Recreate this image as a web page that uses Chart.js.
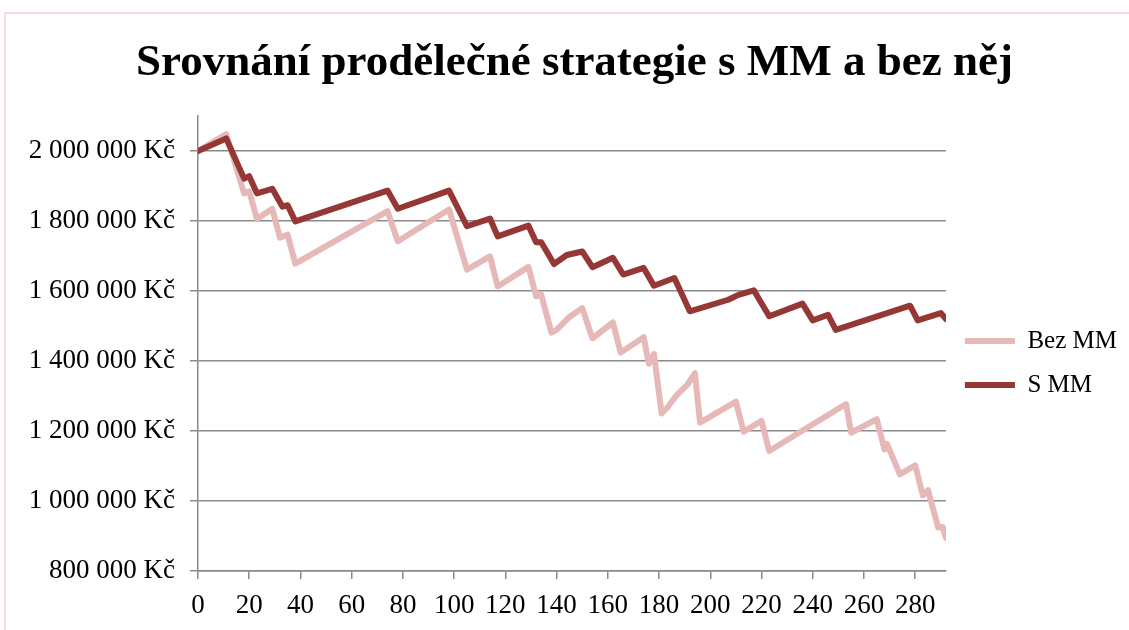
<!DOCTYPE html>
<html>
<head>
    <title>Srovnání prodělečné strategie</title>
    <meta charset="utf-8">
    <script src="https://cdn.jsdelivr.net/npm/chart.js"></script>
    <style>
    body {
        margin: 0;
        background: #fff;
    }
    .wrap {
        position: relative;
        width: 1129px;
        height: 630px;
    }
    .frame {
        position: absolute;
        left: 4px;
        top: 12px;
        right: 0;
        bottom: 0;
        border-top: 2px solid #f2dcdb;
        border-left: 2px solid #f2dcdb;
    }
    </style>
</head>
<body>
<div class="wrap">
    <div class="frame"></div>
    <canvas id="lineChart" width="1129" height="630"></canvas>
</div>

<script>
    // obchodni dny (osa x) a stav uctu v tisicich Kc
    const bezMmDays = [0, 11, 18, 20, 23, 29, 32, 35, 38, 74, 78, 98, 105, 114, 117, 129, 132, 134, 138, 140,
        145, 150, 154, 162, 165, 174, 176, 178, 181, 183, 187, 191, 194, 196, 210, 213, 220, 223, 253, 255,
        265, 268, 269, 274, 280, 283, 285, 289, 290.7, 292];
    const bezMmValues = [2000, 2048, 1879, 1885, 1806, 1835, 1752, 1761, 1678, 1828, 1742, 1833, 1661, 1699, 1613, 1669, 1585, 1589, 1481, 1489,
        1526, 1551, 1465, 1510, 1424, 1468, 1392, 1420, 1250, 1265, 1303, 1332, 1365, 1224, 1284, 1198, 1229, 1143, 1277, 1195,
        1234, 1147, 1163, 1076, 1102, 1016, 1031, 924, 926, 895];

    const sMmDays = [0, 11, 18, 20, 23, 29, 33, 35, 38, 74, 78, 98, 105, 114, 117, 129, 132, 134, 139, 144,
        150, 154, 162, 166, 174, 178, 186, 192, 207, 211, 217, 223, 236, 240, 246, 249, 278, 281, 290, 292];
    const sMmValues = [2000, 2036, 1921, 1928, 1879, 1892, 1841, 1845, 1799, 1887, 1835, 1887, 1785, 1807, 1756, 1787, 1739, 1739, 1677, 1703,
        1713, 1668, 1695, 1647, 1666, 1615, 1637, 1542, 1575, 1589, 1602, 1528, 1564, 1516, 1532, 1489, 1558, 1516, 1537, 1520];

    const seriesNames = ['Bez MM', 'S MM'];
    const xTickValues = [0, 20, 40, 60, 80, 100, 120, 140, 160, 180, 200, 220, 240, 260, 280];
    const yTickValues = [800000, 1000000, 1200000, 1400000, 1600000, 1800000, 2000000];
    const xRange = [0, 292];
    const yRange = [800000, 2100000];

    const toPoints = (days, values) => days.map((d, i) => ({ x: d, y: values[i] * 1000 }));

    const serif = 'Liberation Serif';
    const gridGray = '#8a8a8a';

    function formatKc(v) {
        return String(v).replace(/\B(?=(\d{3})+(?!\d))/g, ' ') + ' Kč';
    }

    const ctx = document.getElementById('lineChart').getContext('2d');
    new Chart(ctx, {
        type: 'line',
        data: {
            datasets: [
                {
                    label: seriesNames[0],
                    data: toPoints(bezMmDays, bezMmValues),
                    borderColor: '#e6b9b8',
                    backgroundColor: '#e6b9b8',
                    borderWidth: 6,
                    order: 1
                },
                {
                    label: seriesNames[1],
                    data: toPoints(sMmDays, sMmValues),
                    borderColor: '#953735',
                    backgroundColor: '#953735',
                    borderWidth: 6,
                    order: 0
                }
            ]
        },
        options: {
            responsive: false,
            animation: false,
            elements: {
                point: { radius: 0 },
                line: { tension: 0, borderJoinStyle: 'round', borderCapStyle: 'round' }
            },
            layout: { padding: { left: 22, right: 2, top: 0, bottom: 0 } },
            plugins: {
                tooltip: { enabled: false },
                title: {
                    display: true,
                    text: 'Srovnání prodělečné strategie s MM a bez něj',
                    color: '#000',
                    font: { family: serif, size: 45, weight: 'bold' },
                    padding: { top: 36, bottom: 26 }
                },
                legend: {
                    position: 'right',
                    title: { display: true, text: ' ', font: { size: 20 }, padding: 36 },
                    labels: {
                        color: '#000',
                        font: { family: serif, size: 25 },
                        usePointStyle: true,
                        pointStyle: 'line',
                        pointStyleWidth: 50,
                        boxHeight: 25,
                        padding: 19,
                        sort: (a, b) => a.datasetIndex - b.datasetIndex
                    }
                }
            },
            scales: {
                x: {
                    type: 'linear',
                    min: xRange[0],
                    max: xRange[1],
                    afterFit: (scale) => { scale.height = 59; },
                    afterBuildTicks: (scale) => { scale.ticks = xTickValues.map(v => ({ value: v })); },
                    grid: { drawOnChartArea: false, drawTicks: true, tickLength: 8, color: gridGray, lineWidth: 1.5 },
                    border: { color: gridGray, width: 1.5 },
                    ticks: {
                        maxRotation: 0,
                        autoSkip: false,
                        color: '#000',
                        padding: 11,
                        font: { family: serif, size: 27 }
                    }
                },
                y: {
                    min: yRange[0],
                    max: yRange[1],
                    afterFit: (scale) => { scale.width = 176; },
                    afterBuildTicks: (scale) => { scale.ticks = yTickValues.map(v => ({ value: v })); },
                    grid: { color: gridGray, lineWidth: 1.5, tickLength: 8 },
                    border: { color: gridGray, width: 1.5 },
                    ticks: {
                        color: '#000',
                        padding: 15,
                        font: { family: serif, size: 27 },
                        callback: (v) => formatKc(v)
                    }
                }
            }
        }
    });
</script>
</body>
</html>
